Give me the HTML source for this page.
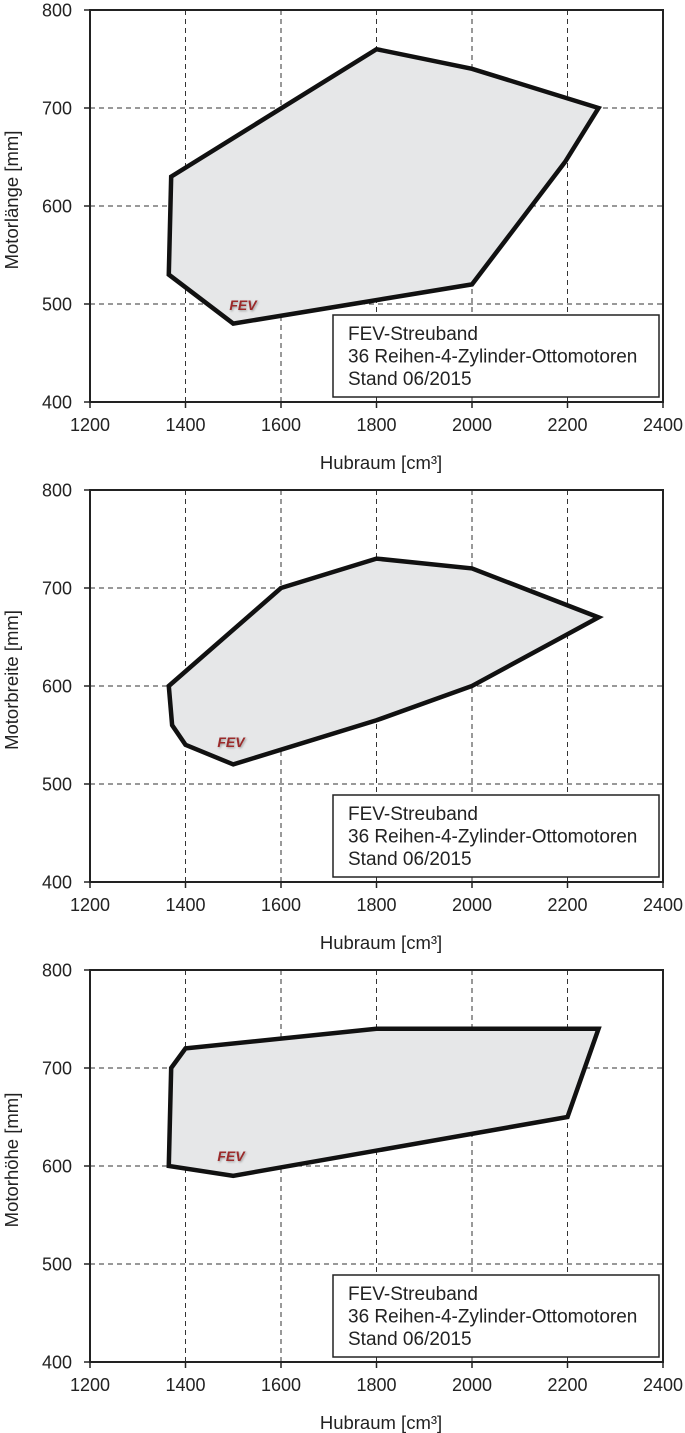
<!DOCTYPE html>
<html><head><meta charset="utf-8">
<style>
html,body{margin:0;padding:0;background:#fff;}
svg{display:block;font-family:"Liberation Sans",Arial,sans-serif;}
</style></head>
<body>
<svg id="svg" width="685" height="1433" viewBox="0 0 685 1433" xmlns="http://www.w3.org/2000/svg"></svg>
<script>
const xTicks=[1200,1400,1600,1800,2000,2200,2400];
const yTicks=[400,500,600,700,800];
const yTitles=["Motorlänge [mm]","Motorbreite [mm]","Motorhöhe [mm]"];
const chartNames=["length-chart","width-chart","height-chart"];
const lengthX=[1370,1800,2000,2265,2195,2000,1500,1365];
const lengthY=[630,760,740,700,645,520,480,530];
const widthX=[1365,1600,1800,2000,2265,2000,1800,1500,1400,1372];
const widthY=[600,700,730,720,670,600,565,520,540,560];
const heightX=[1370,1400,1800,2265,2200,1500,1365];
const heightY=[700,720,740,740,650,590,600];
const polysX=[lengthX,widthX,heightX];
const polysY=[lengthY,widthY,heightY];
const tops=[10,490,970];

const NS="http://www.w3.org/2000/svg";
const svg=document.getElementById('svg');
const X0=90,X1=663,H=392;
function mk(tag,attrs,parent){const e=document.createElementNS(NS,tag);for(const k in attrs)e.setAttribute(k,attrs[k]);parent.appendChild(e);return e;}
function xs(v){return X0+(v-1200)/(2400-1200)*(X1-X0);}

tops.forEach((top,ci)=>{
  const ys=v=>top+H-(v-400)/(800-400)*H;
  const g=mk('g',{},svg);
  
  
  xTicks.slice(1,-1).forEach(t=>{
    const l=mk('line',{x1:xs(t),x2:xs(t),y1:top,y2:top+H,stroke:'#333','stroke-width':1,'stroke-dasharray':'5,4'},g);
    
    
  });
  yTicks.slice(1,-1).forEach(t=>{
    const l=mk('line',{x1:X0,x2:X1,y1:ys(t),y2:ys(t),stroke:'#333','stroke-width':1,'stroke-dasharray':'5,4'},g);
    
    
  });
  const pts=polysX[ci].map((x,i)=>xs(x)+','+ys(polysY[ci][i])).join(' ');
  const p=mk('polygon',{points:pts,fill:'#e6e7e8',stroke:'#111','stroke-width':4.5,'stroke-linejoin':'miter'},g);
  
  
  const lx=[243,231,231][ci], ly=[310,747,1161][ci];
  const fev=mk('text',{x:lx,y:ly,'font-size':14,'font-weight':'bold','font-style':'italic',fill:'#9b2a2a','text-anchor':'middle',style:'text-shadow:1px 1px 2px #999'},g);
  fev.textContent='FEV';
  
  
  const fr=mk('rect',{x:X0,y:top,width:X1-X0,height:H,fill:'none',stroke:'#222','stroke-width':2},g);
  
  
  xTicks.forEach(t=>{
    const l=mk('line',{x1:xs(t),x2:xs(t),y1:top+H,y2:top+H+6,stroke:'#222','stroke-width':1.5},g);
    
    
    const tx=mk('text',{x:xs(t),y:top+H+29,'font-size':18,fill:'#222','text-anchor':'middle'},g);
    tx.textContent=t;
    
    
  });
  yTicks.forEach(t=>{
    const l=mk('line',{x1:X0-6,x2:X0,y1:ys(t),y2:ys(t),stroke:'#222','stroke-width':1.5},g);
    
    
    const tx=mk('text',{x:X0-18,y:ys(t)+6.5,'font-size':18,fill:'#222','text-anchor':'end'},g);
    tx.textContent=t;
    
    
  });
  const xt=mk('text',{x:381,y:top+H+67,'font-size':18.5,fill:'#222','text-anchor':'middle'},g);
  xt.textContent='Hubraum [cm³]';
  
  
  const yt=mk('text',{x:0,y:0,'font-size':18.5,fill:'#222','text-anchor':'middle',transform:`translate(18,${top+H/2-6}) rotate(-90)`},g);
  yt.textContent=yTitles[ci];
  
  
  const lg=mk('g',{},g);
  
  
  mk('rect',{x:333,y:top+305,width:326,height:82,fill:'#fff',stroke:'#222','stroke-width':1.5},lg);
  ['FEV-Streuband','36 Reihen-4-Zylinder-Ottomotoren','Stand 06/2015'].forEach((s,i)=>{
    const t=mk('text',{x:348,y:top+330+i*22.5,'font-size':19,fill:'#222'},lg);
    t.textContent=s;
    
    
  });
});
</script>
</body></html>
